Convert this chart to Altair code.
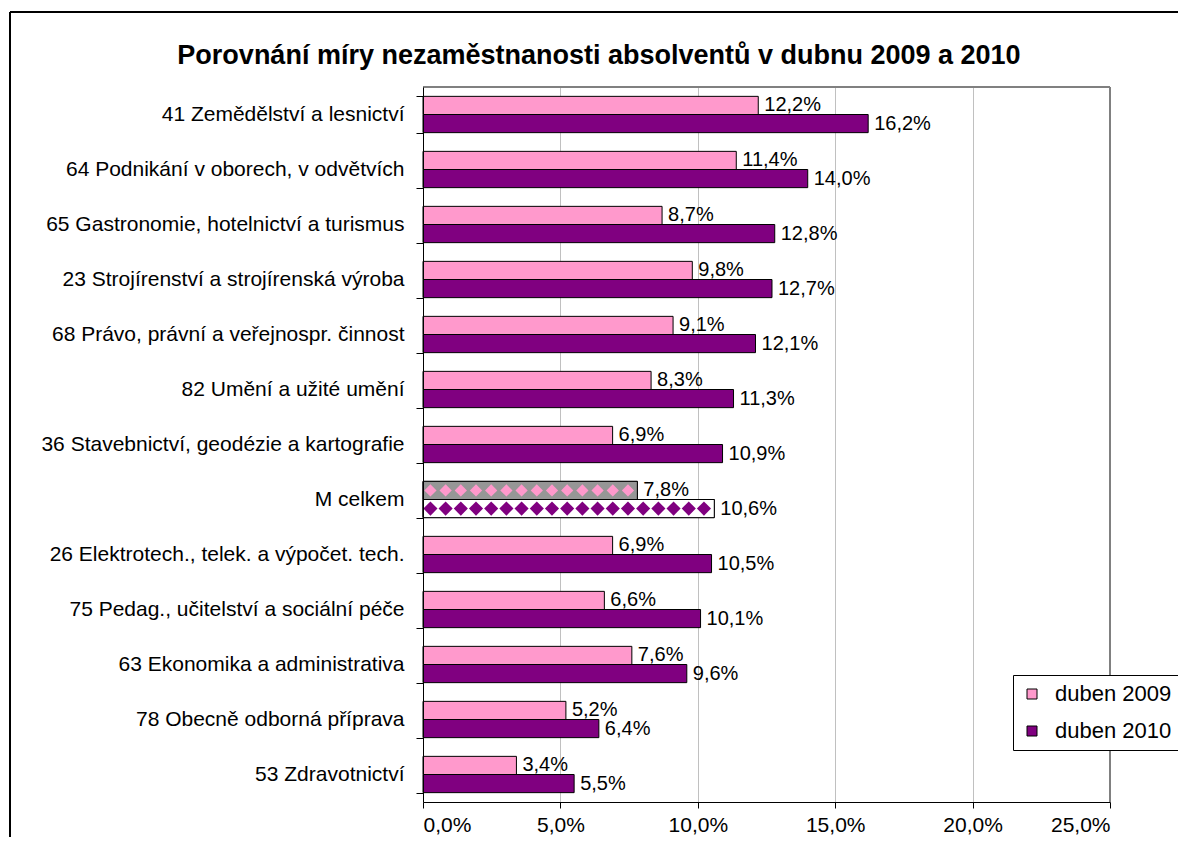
import altair as alt
import pandas as pd
import numpy as np

categories = [
    "41 Zemědělství a lesnictví",
    "64 Podnikání v oborech, v odvětvích",
    "65 Gastronomie, hotelnictví a turismus",
    "23 Strojírenství a strojírenská výroba\u00a0",
    "68 Právo, právní a veřejnospr. činnost",
    "82 Umění a užité umění",
    "36 Stavebnictví, geodézie a kartografie",
    "M celkem",
    "26 Elektrotech., telek. a výpočet. tech.",
    "75 Pedag., učitelství a sociální péče\u00a0",
    "63 Ekonomika a administrativa",
    "78 Obecně odborná příprava",
    "53 Zdravotnictví",
]
v2009 = [12.2, 11.4, 8.7, 9.8, 9.1, 8.3, 6.9, 7.8, 6.9, 6.6, 7.6, 5.2, 3.4]
v2010 = [16.2, 14.0, 12.8, 12.7, 12.1, 11.3, 10.9, 10.6, 10.5, 10.1, 9.6, 6.4, 5.5]
series = ["duben 2009", "duben 2010"]
colors = ["#FF99CC", "#800080"]
total_label = "M celkem"
pattern_bg = ["#969696", "#FFFFFF"]
x_ticks = [0, 5, 10, 15, 20, 25]
title_text = "Porovnání míry nezaměstnanosti absolventů v dubnu 2009 a 2010"

FONT = "Liberation Sans"
W, H = 687, 715
PAD = {"left": 415, "top": 79, "right": 68, "bottom": 35}

rows = []
for c, a, b in zip(categories, v2009, v2010):
    for s, v, bg in zip(series, (a, b), pattern_bg):
        rows.append({"cat": c, "series": s, "value": v, "bg": bg,
                     "label": f"{v:.1f}".replace(".", ",") + "%"})
df = pd.DataFrame(rows)

# decorative diamond pattern for the total row
ti = categories.index(total_label)
pat = []
for s, v, col in zip(series, (v2009[ti], v2010[ti]), colors):
    for px in np.arange(0.27, v - 0.2, 0.553):
        pat.append({"cat": total_label, "series": s, "value": float(px), "dc": col})
pdf = pd.DataFrame(pat)

y_enc = alt.Y("cat:N", sort=categories,
              scale=alt.Scale(paddingInner=0.34, paddingOuter=0.17),
              axis=alt.Axis(title=None, tickBand="extent", tickSize=7, tickColor="black",
                            domainColor="black", labelFont=FONT, labelFontSize=21,
                            labelColor="black", labelPadding=12, labelLimit=500, zindex=1))
yo_enc = alt.YOffset("series:N", sort=series, scale=alt.Scale(paddingInner=0, paddingOuter=0))
x_enc = alt.X("value:Q", scale=alt.Scale(domain=[0, 25], nice=False),
              axis=alt.Axis(title=None, values=x_ticks,
                            labelExpr="replace(format(datum.value, '.1f'), '.', ',') + '%'",
                            grid=True, gridColor="#c0c0c0", gridWidth=1,
                            tickSize=6, tickColor="black", domainColor="black",
                            labelFont=FONT, labelFontSize=21, labelColor="black",
                            labelPadding=6))

base = alt.Chart(df)

bars = base.mark_bar(stroke="black", strokeWidth=1, opacity=1).encode(
    x=x_enc, y=y_enc, yOffset=yo_enc,
    color=alt.Color("series:N", sort=series,
                    scale=alt.Scale(domain=series, range=colors),
                    legend=alt.Legend(title=None, orient="none", legendX=590, legendY=588,
                                      direction="vertical", strokeColor="black",
                                      fillColor="white", padding=8, symbolType="square",
                                      symbolSize=100, symbolStrokeColor="black",
                                      symbolStrokeWidth=1, symbolOpacity=1,
                                      labelFont=FONT, labelFontSize=22, labelColor="black",
                                      labelOffset=12, rowPadding=15, labelLimit=300)),
)

patbars = base.transform_filter(alt.datum.cat == total_label).mark_bar(
    stroke="black", strokeWidth=1, opacity=1).encode(
    x=x_enc, y=y_enc, yOffset=yo_enc, fill=alt.Fill("bg:N", scale=None))

d1 = alt.Chart(pdf).transform_filter(alt.datum.series == series[0]).mark_point(
    shape="diamond", filled=True, opacity=1, size=150).encode(
    x=x_enc, y=y_enc, yOffset=yo_enc, fill=alt.Fill("dc:N", scale=None))
d2 = alt.Chart(pdf).transform_filter(alt.datum.series == series[1]).mark_point(
    shape="diamond", filled=True, opacity=1, size=200).encode(
    x=x_enc, y=y_enc, yOffset=yo_enc, fill=alt.Fill("dc:N", scale=None))

labels = base.mark_text(align="left", baseline="middle", dx=6, font=FONT,
                        fontSize=20, color="black").encode(
    x=x_enc, y=y_enc, yOffset=yo_enc, text="label:N")

one = alt.Chart(pd.DataFrame({"k": [0]}))
top_rule = one.mark_rule(color="#808080", strokeWidth=2).encode(
    x=alt.value(0), x2=alt.value(W), y=alt.value(0))
right_rule = one.mark_rule(color="#808080", strokeWidth=2).encode(
    x=alt.value(W), y=alt.value(0), y2=alt.value(H))
# outer chart frame (top and left edges; right and bottom fall outside the window)
frame_top = one.mark_rule(color="black", strokeWidth=2).encode(
    x=alt.value(-413), x2=alt.value(W + PAD["right"]), y=alt.value(-75))
frame_left = one.mark_rule(color="black", strokeWidth=2).encode(
    x=alt.value(-413), y=alt.value(-75), y2=alt.value(H + PAD["bottom"]))
title = one.mark_text(font=FONT, fontSize=27, fontWeight="bold", color="black",
                      align="center", baseline="middle").encode(
    x=alt.value(176), y=alt.value(-31), text=alt.value(title_text))

chart = alt.layer(top_rule, right_rule, bars, patbars, d1, d2, labels,
                  frame_top, frame_left, title).properties(
    width=W, height=H,
    autosize=alt.AutoSizeParams(type="none"),
    padding=PAD,
    background="white",
).configure_view(stroke="transparent")

chart.save("out.html", embed_options={"renderer": "svg", "actions": False})
